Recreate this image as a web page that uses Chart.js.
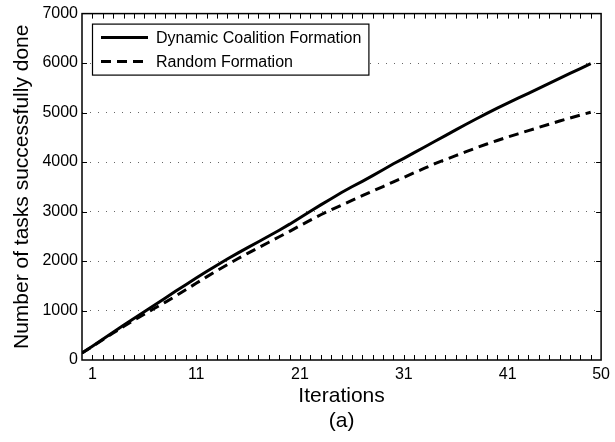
<!DOCTYPE html>
<html>
<head>
<meta charset="utf-8">
<script src="https://cdn.jsdelivr.net/npm/chart.js@4/dist/chart.umd.min.js"></script>
<style>
  html, body { margin: 0; padding: 0; background: #fff; }
</style>
</head>
<body>
<canvas id="chart" width="615" height="442"></canvas>
<script>
// iteration index on the x axis (0..49)
const iterations = Array.from({ length: 50 }, (_, i) => i);

const dynamicCoalition = [
  140, 280, 420, 560, 700, 838, 975, 1112, 1250, 1387,
  1522, 1656, 1788, 1915, 2040, 2160, 2275, 2390, 2505, 2622,
  2745, 2875, 3005, 3135, 3260, 3385, 3500, 3610, 3725, 3845,
  3965, 4075, 4190, 4305, 4420, 4535, 4650, 4765, 4875, 4985,
  5090, 5190, 5290, 5390, 5490, 5590, 5690, 5790, 5890, 5990
];

const randomFormation = [
  140, 275, 410, 545, 675, 805, 925, 1045, 1165, 1290,
  1420, 1550, 1680, 1805, 1925, 2045, 2160, 2270, 2380, 2490,
  2600, 2715, 2825, 2935, 3035, 3130, 3225, 3320, 3415, 3505,
  3600, 3690, 3785, 3875, 3970, 4050, 4130, 4210, 4290, 4365,
  4435, 4505, 4570, 4635, 4700, 4765, 4830, 4890, 4950, 5005
];

const seriesNames = ["Dynamic Coalition Formation", "Random Formation"];
const xTickValues = [1, 11, 21, 31, 41, 50];
const xMin = 0, xMax = 50;
const yMin = 0, yMax = 7000, yStep = 1000;

const FONT = "'Liberation Sans', Arial, Helvetica, sans-serif";

// box around the plot, inward ticks and the framed legend
const framePlugin = {
  id: "frame",
  afterDraw(chart) {
    const { ctx, chartArea: a, scales: { x, y } } = chart;
    ctx.save();
    ctx.strokeStyle = "#000";
    ctx.lineWidth = 1;
    ctx.setLineDash([]);
    ctx.beginPath();
    for (let v = xMin + 1; v < xMax; v++) {
      const px = Math.round(x.getPixelForValue(v)) + 0.5;
      ctx.moveTo(px, a.bottom); ctx.lineTo(px, a.bottom - 5);
      ctx.moveTo(px, a.top); ctx.lineTo(px, a.top + 5);
    }
    for (let v = yMin + yStep; v < yMax; v += yStep) {
      const py = Math.round(y.getPixelForValue(v)) + 0.5;
      ctx.moveTo(a.left, py); ctx.lineTo(a.left + 5, py);
      ctx.moveTo(a.right, py); ctx.lineTo(a.right - 5, py);
    }
    ctx.stroke();

    ctx.lineWidth = 1.5;
    ctx.strokeRect(a.left, a.top, a.right - a.left, a.bottom - a.top);

    // legend
    ctx.font = "16px " + FONT;
    const sets = chart.data.datasets;
    const textW = Math.max(...sets.map(d => ctx.measureText(d.label).width));
    const lx = a.left + 10, ly = a.top + 10;
    const lw = 64 + textW + 7, lh = 51;
    ctx.fillStyle = "#fff";
    ctx.fillRect(lx, ly, lw, lh);
    ctx.lineWidth = 1.2;
    ctx.strokeRect(lx + 0.5, ly + 0.5, lw, lh);

    sets.forEach((d, i) => {
      const cy = ly + 14 + i * 24;
      ctx.lineWidth = d.borderWidth;
      ctx.strokeStyle = d.borderColor;
      ctx.setLineDash(d.borderDash || []);
      ctx.beginPath();
      ctx.moveTo(lx + 9, cy);
      ctx.lineTo(lx + 56, cy);
      ctx.stroke();
      ctx.setLineDash([]);
      ctx.fillStyle = "#000";
      ctx.textBaseline = "middle";
      ctx.textAlign = "left";
      ctx.fillText(d.label, lx + 64, cy + 1);
    });
    ctx.restore();
  }
};

const ctx = document.getElementById("chart").getContext("2d");
new Chart(ctx, {
  type: "line",
  data: {
    datasets: [
      {
        label: seriesNames[0],
        data: iterations.map((it, i) => ({ x: it, y: dynamicCoalition[i] })),
        borderColor: "#000",
        borderWidth: 3,
        pointRadius: 0,
        tension: 0,
        fill: false
      },
      {
        label: seriesNames[1],
        data: iterations.map((it, i) => ({ x: it, y: randomFormation[i] })),
        borderColor: "#000",
        borderWidth: 3,
        borderDash: [10, 6],
        pointRadius: 0,
        tension: 0,
        fill: false
      }
    ]
  },
  options: {
    responsive: false,
    animation: false,
    devicePixelRatio: 1,
    layout: { padding: { top: 12, right: 11, left: 0, bottom: 0 } },
    plugins: {
      legend: { display: false },
      tooltip: { enabled: false }
    },
    scales: {
      x: {
        type: "linear",
        min: xMin,
        max: xMax,
        afterBuildTicks: scale => {
          scale.ticks = xTickValues.map(v => ({ value: v }));
        },
        afterFit: scale => { scale.height = 82; },
        grid: { display: false, drawTicks: false },
        border: { display: false },
        ticks: {
          padding: 5,
          maxRotation: 0,
          color: "#000",
          font: { family: FONT, size: 16 },
          callback: v => String(v)
        },
        title: {
          display: true,
          text: ["Iterations", "(a)"],
          color: "#000",
          font: { family: FONT, size: 21, lineHeight: 1.2 },
          padding: { top: 0, bottom: 8 }
        }
      },
      y: {
        min: yMin,
        max: yMax,
        afterFit: scale => { scale.width = 82; },
        grid: {
          drawTicks: false,
          lineWidth: 1,
          color: c => (c.tick && (c.tick.value === yMin || c.tick.value === yMax)) ? "rgba(0,0,0,0)" : "#666"
        },
        border: { display: false, dash: [1, 7] },
        ticks: {
          stepSize: yStep,
          padding: 4,
          color: "#000",
          font: { family: FONT, size: 16 },
          callback: v => String(v)
        },
        title: {
          display: true,
          text: "Number of tasks successfully done",
          color: "#000",
          font: { family: FONT, size: 21, lineHeight: 1.2 },
          padding: { top: 10, bottom: 0 }
        }
      }
    }
  },
  plugins: [framePlugin]
});
</script>
</body>
</html>
